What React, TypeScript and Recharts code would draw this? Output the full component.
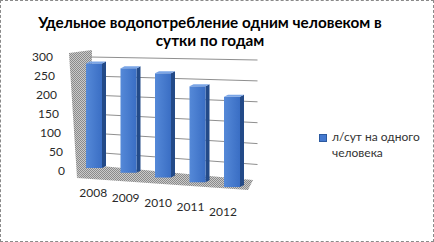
import { BarChart, Bar, XAxis, YAxis, CartesianGrid, Legend } from "recharts";

const years = ["2008", "2009", "2010", "2011", "2012"];
const litresPerPerson = [275, 270, 265, 240, 222];
const yTicks = [0, 50, 100, 150, 200, 250, 300];
const seriesName = "л/сут на одного человека";
const titleLines = ["Удельное водопотребление одним человеком в", "сутки по годам"];

const data = years.map((year, i) => ({ year, value: litresPerPerson[i] }));

const FONT = "Lato, 'Liberation Sans', sans-serif";
const PLOT_TOP = 57;
const PLOT_BOTTOM = 171;
const X0 = 94; // centre of first band, origin of the fake perspective

// pseudo-perspective: things further right sit lower and look a bit bigger
const drop = (cx: number) => (cx - X0) * 0.138 - 3;
const grow = (cx: number) => 1 + (cx - X0) * 0.0005;

const Bar3D = (props: any) => {
  const { x, y, width, height } = props;
  if (!height) return null;
  const cx = x + width / 2;
  const base = y + height;
  const d = 4;
  const t = `translate(0 ${drop(cx)}) translate(0 ${base}) scale(1 ${grow(cx)}) translate(0 ${-base})`;
  return (
    <g transform={t}>
      <polygon
        points={`${x + width},${y} ${x + width + d},${y - 2} ${x + width + d},${base - 2} ${x + width},${base}`}
        fill="#234a88"
      />
      <polygon
        points={`${x},${y} ${x + d},${y - 2} ${x + width + d},${y - 2} ${x + width},${y}`}
        fill="#7aa5e6"
      />
      <rect x={x} y={y} width={width} height={height} fill="url(#barFront)" />
    </g>
  );
};

const YTick = ({ y, payload }: any) => (
  <text
    x={53 + (y - PLOT_TOP) * 0.105}
    y={y}
    dy={4}
    textAnchor="end"
    fill="#2a2a2a"
    fontSize={12}
    fontFamily={FONT}
  >
    {payload.value}
  </text>
);

const XTick = ({ x, payload }: any) => (
  <text
    x={x - (x - X0) * 0.06 - 1}
    y={PLOT_BOTTOM + drop(x) + 29}
    textAnchor="middle"
    fill="#2a2a2a"
    fontSize={12}
    fontFamily={FONT}
  >
    {payload.value}
  </text>
);

const gridLine = (p: any) => {
  if (p.y1 > PLOT_BOTTOM - 1) return <g key={p.key} />;
  return (
    <line
      key={p.key}
      x1={p.x1 + 13}
      y1={p.y1}
      x2={p.x2 + 8}
      y2={p.y1 + 3 + (p.y1 - PLOT_TOP) * 0.1}
      stroke="#8f8f8f"
      strokeWidth={1}
    />
  );
};

const LegendContent = ({ payload }: any) => (
  <div style={{ fontFamily: FONT, fontSize: 12, lineHeight: "16px", color: "#333" }}>
    {(payload || []).map((p: any) => (
      <div key={p.value} style={{ display: "flex", alignItems: "flex-start" }}>
        <span
          style={{
            width: 6,
            height: 6,
            marginTop: 5,
            marginRight: 5,
            background: "#4479cf",
            border: "0.5px solid #2c5aa0",
            flex: "none",
          }}
        />
        <span style={{ width: 92 }}>{p.value}</span>
      </div>
    ))}
  </div>
);

export default function App() {
  return (
    <div style={{ position: "absolute", left: 0, top: 0, width: 434, height: 242, background: "#fff" }}>
      {/* side wall and floor behind the chart */}
      <svg width={434} height={242} style={{ position: "absolute", left: 0, top: 0 }}>
        <defs>
          <pattern id="dots" width={2} height={2} patternUnits="userSpaceOnUse">
            <rect width={2} height={2} fill="#cacaca" />
            <rect width={1} height={1} fill="#8a8a8a" />
            <rect x={1} y={1} width={1} height={1} fill="#8a8a8a" />
          </pattern>
        </defs>
        <polygon points="69,53 92,50 90,166 77,178" fill="url(#dots)" />
        <polygon points="90,165 253,180 248,190 77,178" fill="url(#dots)" />
      </svg>

      <div
        style={{
          position: "absolute",
          left: 0,
          top: 13,
          width: 420,
          textAlign: "center",
          fontFamily: FONT,
          fontWeight: 700,
          fontSize: 15.3,
          lineHeight: "18px",
          color: "#000",
        }}
      >
        {titleLines.map((t) => (
          <div key={t}>{t}</div>
        ))}
      </div>

      <div style={{ position: "absolute", left: 0, top: 0 }}>
        <BarChart
          width={434}
          height={242}
          data={data}
          margin={{ top: PLOT_TOP, right: 74.5, bottom: 41, left: 0 }}
          barCategoryGap={0}
        >
          <defs>
            <linearGradient id="barFront" x1="0" y1="0" x2="1" y2="0">
              <stop offset="0%" stopColor="#5589d8" />
              <stop offset="100%" stopColor="#3a6ec4" />
            </linearGradient>
          </defs>
          <CartesianGrid vertical={false} horizontal={gridLine} />
          <XAxis dataKey="year" axisLine={false} tickLine={false} tick={<XTick />} interval={0} />
          <YAxis
            domain={[0, 300]}
            ticks={yTicks}
            axisLine={false}
            tickLine={false}
            width={77}
            tick={<YTick />}
            interval={0}
          />
          <Legend
            layout="vertical"
            align="right"
            verticalAlign="middle"
            content={<LegendContent />}
            wrapperStyle={{ position: "absolute", left: 319, top: 129, right: "auto", width: 110 }}
          />
          <Bar
            dataKey="value"
            name={seriesName}
            barSize={16}
            fill="#4479cf"
            shape={<Bar3D />}
            isAnimationActive={false}
          />
        </BarChart>
      </div>

      <div
        style={{
          position: "absolute",
          left: 0,
          top: 0,
          width: 434,
          height: 242,
          boxSizing: "border-box",
          border: "1px dashed #8a8a8a",
          pointerEvents: "none",
        }}
      />
    </div>
  );
}
